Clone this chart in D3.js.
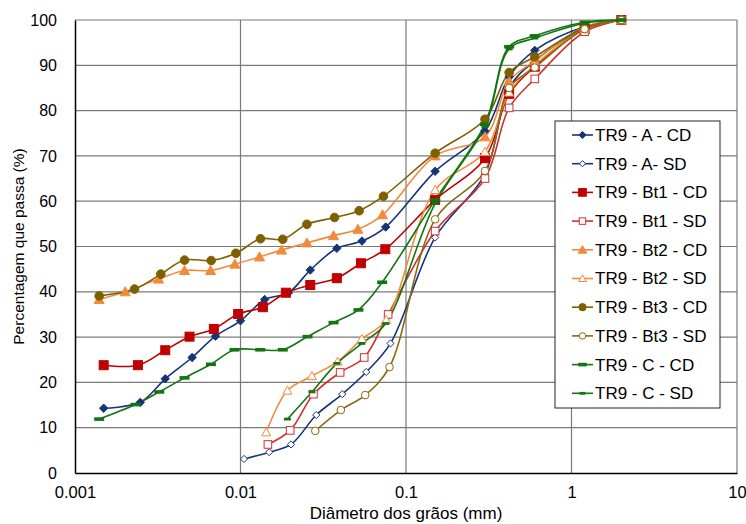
<!DOCTYPE html>
<html>
<head>
<meta charset="utf-8">
<script src="https://cdn.jsdelivr.net/npm/d3@7"></script>
<style>
  body { margin: 0; background: #fff; }
  svg text { font-family: "Liberation Sans", Arial, sans-serif; fill: #000; }
</style>
</head>
<body>
<div id="chart"></div>
<script>
// Granulometric curves, TR9 horizons, with (CD) and without (SD) dispersant

const xTicks = [0.001, 0.01, 0.1, 1, 10];
const yTicks = [0, 10, 20, 30, 40, 50, 60, 70, 80, 90, 100];

const dA_CD   = [0.00149, 0.00248, 0.00351, 0.0051, 0.00706, 0.01, 0.014, 0.0195, 0.0264, 0.0382, 0.0542, 0.0754, 0.15, 0.3, 0.42, 0.6, 1.2, 2.0];
const pA_CD   = [14.3, 15.6, 20.8, 25.5, 30.2, 33.6, 38.3, 39.8, 44.8, 49.6, 51.2, 54.3, 66.6, 75.5, 87.5, 93.3, 98.5, 100];
const dA_SD   = [0.0105, 0.0149, 0.0202, 0.0287, 0.0412, 0.0575, 0.0806, 0.15, 0.3, 0.42, 0.6, 1.2, 2.0];
const pA_SD   = [3.1, 4.6, 6.3, 12.8, 17.4, 22.3, 28.6, 52.0, 66.0, 85.0, 91.0, 98.0, 100];
const dBt1_CD = [0.00149, 0.0024, 0.00351, 0.00492, 0.0069, 0.00968, 0.01365, 0.0188, 0.0264, 0.0382, 0.0534, 0.075, 0.15, 0.3, 0.42, 0.6, 1.2, 2.0];
const pBt1_CD = [23.8, 23.8, 27.1, 30.1, 31.8, 35.1, 36.6, 39.8, 41.5, 43.0, 46.3, 49.4, 60.3, 69.5, 83.7, 89.7, 98.0, 100];
const dBt1_SD = [0.01464, 0.01995, 0.0276, 0.04, 0.0559, 0.078, 0.15, 0.3, 0.42, 0.6, 1.2, 2.0];
const pBt1_SD = [6.3, 9.4, 17.4, 22.2, 25.5, 35.0, 53.4, 65.0, 80.6, 87.0, 97.4, 100];
const dBt2_CD = [0.0014, 0.00201, 0.0032, 0.00459, 0.00659, 0.00925, 0.01303, 0.0177, 0.0252, 0.0365, 0.0512, 0.0721, 0.15, 0.3, 0.42, 0.6, 1.2, 2.0];
const pBt2_CD = [38.3, 40.0, 42.8, 44.7, 44.7, 46.1, 47.7, 49.2, 50.8, 52.4, 53.8, 57.0, 70.0, 74.2, 86.5, 91.0, 98.5, 100];
const dBt2_SD = [0.0143, 0.0192, 0.027, 0.0386, 0.0541, 0.0759, 0.15, 0.3, 0.42, 0.6, 1.2, 2.0];
const pBt2_SD = [9.0, 18.2, 21.4, 24.6, 29.6, 33.8, 62.5, 70.9, 84.0, 90.0, 98.0, 100];
const dBt3_CD = [0.0014, 0.00229, 0.0033, 0.00459, 0.00665, 0.00938, 0.0132, 0.018, 0.0252, 0.037, 0.0521, 0.0731, 0.15, 0.3, 0.42, 0.6, 1.2, 2.0];
const pBt3_CD = [39.1, 40.6, 43.9, 47.0, 46.9, 48.5, 51.7, 51.6, 54.9, 56.4, 57.9, 61.1, 70.6, 78.1, 88.4, 91.9, 98.3, 100];
const dBt3_SD = [0.0283, 0.0404, 0.0567, 0.0795, 0.15, 0.3, 0.42, 0.6, 1.2, 2.0];
const pBt3_SD = [9.3, 13.9, 17.2, 23.4, 56.0, 66.7, 85.0, 89.5, 98.0, 100];
const dC_CD   = [0.0014, 0.00232, 0.00323, 0.00459, 0.00663, 0.0092, 0.01315, 0.018, 0.0254, 0.0365, 0.0516, 0.0718, 0.15, 0.3, 0.42, 0.6, 1.2, 2.0];
const pC_CD   = [11.9, 15.1, 17.9, 21.0, 24.0, 27.2, 27.2, 27.2, 30.1, 33.2, 36.0, 42.1, 60.3, 77.0, 94.1, 96.5, 99.5, 100];
const dC_SD   = [0.0192, 0.027, 0.0382, 0.0541, 0.0754, 0.15, 0.3, 0.42, 0.6, 1.2, 2.0];
const pC_SD   = [11.9, 17.9, 24.2, 28.6, 33.0, 59.5, 76.5, 93.6, 96.0, 99.3, 100];

const seriesNames = ['TR9 - A - CD', 'TR9 - A- SD', 'TR9 - Bt1 - CD', 'TR9 - Bt1 - SD', 'TR9 - Bt2 - CD',
                     'TR9 - Bt2 - SD', 'TR9 - Bt3 - CD', 'TR9 - Bt3 - SD', 'TR9 - C - CD', 'TR9 - C - SD'];
const seriesD = [dA_CD, dA_SD, dBt1_CD, dBt1_SD, dBt2_CD, dBt2_SD, dBt3_CD, dBt3_SD, dC_CD, dC_SD];
const seriesP = [pA_CD, pA_SD, pBt1_CD, pBt1_SD, pBt2_CD, pBt2_SD, pBt3_CD, pBt3_SD, pC_CD, pC_SD];

// Look of each series: colour, marker shape, filled or not
const styles = [
  { color: '#15357a', shape: 'diamond',  fill: true  },
  { color: '#15357a', shape: 'diamond',  fill: false },
  { color: '#c00000', shape: 'square',   fill: true  },
  { color: '#d03030', shape: 'square',   fill: false },
  { color: '#f28a3c', shape: 'triangle', fill: true  },
  { color: '#f28a3c', shape: 'triangle', fill: false },
  { color: '#7f6000', shape: 'circle',   fill: true  },
  { color: '#8a6a10', shape: 'circle',   fill: false },
  { color: '#127512', shape: 'dash',     fill: true  },
  { color: '#127512', shape: 'dashS',    fill: true  }
];

const W = 746, H = 524;
const margin = { top: 20, right: 9, bottom: 51, left: 75 };

const svg = d3.select('#chart').append('svg').attr('width', W).attr('height', H);

const x = d3.scaleLog().domain([0.001, 10]).range([margin.left, W - margin.right]);
const y = d3.scaleLinear().domain([0, 100]).range([H - margin.bottom, margin.top]);

// --- Grid ---
svg.append('g')
   .selectAll('line.h')
   .data(yTicks.filter(v => v > 0))
   .enter().append('line')
   .attr('x1', x(0.001)).attr('x2', x(10))
   .attr('y1', d => y(d)).attr('y2', d => y(d))
   .attr('stroke', '#7a7a7a').attr('stroke-width', 1.2);

svg.append('g')
   .selectAll('line.v')
   .data(xTicks.filter(v => v > 0.001))
   .enter().append('line')
   .attr('x1', d => x(d)).attr('x2', d => x(d))
   .attr('y1', y(0)).attr('y2', y(100))
   .attr('stroke', '#7a7a7a').attr('stroke-width', 1.2);

// --- Axes ---
const yAxis = svg.append('g')
   .attr('transform', 'translate(' + x(0.001) + ',0)')
   .call(d3.axisLeft(y).tickValues(yTicks).tickSize(0).tickPadding(18));
yAxis.select('.domain').attr('stroke', '#000').attr('stroke-width', 1.5);
yAxis.selectAll('.tick text').style('font-size', '16px');

const xAxis = svg.append('g')
   .attr('transform', 'translate(0,' + y(0) + ')')
   .call(d3.axisBottom(x).tickValues(xTicks).tickFormat(d => String(d)).tickSize(0).tickPadding(13));
xAxis.select('.domain').attr('stroke', '#000').attr('stroke-width', 1.5);
xAxis.selectAll('.tick text').style('font-size', '16.5px');

svg.append('text')
   .attr('x', (x(0.001) + x(10)) / 2).attr('y', 519)
   .attr('text-anchor', 'middle').style('font-size', '17px')
   .text('Diâmetro dos grãos (mm)');

svg.append('text')
   .attr('transform', 'translate(24,' + ((y(0) + y(100)) / 2) + ') rotate(-90)')
   .attr('text-anchor', 'middle').style('font-size', '15.5px')
   .text('Percentagem que passa (%)');

// --- Markers ---
function drawMarker(g, shape, fill, color, cx, cy, scale)
{
  const s = scale || 1;
  const fc = fill ? color : '#fff';
  if (shape === 'diamond')
  {
    const r = (fill ? 4.2 : 3.6) * s;
    g.append('path').attr('d', `M${cx},${cy - r}L${cx + r},${cy}L${cx},${cy + r}L${cx - r},${cy}Z`)
     .attr('fill', fc).attr('stroke', color).attr('stroke-width', 1);
  }
  else if (shape === 'square')
  {
    const r = (fill ? 4.5 : 3.8) * s;
    g.append('rect').attr('x', cx - r).attr('y', cy - r).attr('width', 2 * r).attr('height', 2 * r)
     .attr('fill', fc).attr('stroke', color).attr('stroke-width', 1);
  }
  else if (shape === 'triangle')
  {
    const r = (fill ? 5 : 4.5) * s;
    g.append('path').attr('d', `M${cx},${cy - r}L${cx + r},${cy + r * 0.8}L${cx - r},${cy + r * 0.8}Z`)
     .attr('fill', fc).attr('stroke', color).attr('stroke-width', 1);
  }
  else if (shape === 'circle')
  {
    g.append('circle').attr('cx', cx).attr('cy', cy).attr('r', (fill ? 4.3 : 3.8) * s)
     .attr('fill', fc).attr('stroke', color).attr('stroke-width', 1);
  }
  else if (shape === 'dash' || shape === 'dashS')
  {
    const w = (shape === 'dash' ? 5 : 3.5) * s, h = (shape === 'dash' ? 1.8 : 1.4);
    g.append('rect').attr('x', cx - w).attr('y', cy - h).attr('width', 2 * w).attr('height', 2 * h)
     .attr('fill', color);
  }
}

// --- Series ---
const line = d3.line()
               .x(d => x(d[0]))
               .y(d => y(d[1]))
               .curve(d3.curveCatmullRom.alpha(0.5));

const plot = svg.append('g');
seriesNames.forEach((name, i) =>
{
  const pts = seriesD[i].map((d, k) => [d, seriesP[i][k]]);
  plot.append('path').datum(pts)
      .attr('d', line).attr('fill', 'none')
      .attr('stroke', styles[i].color).attr('stroke-width', 1.6);
});
seriesNames.forEach((name, i) =>
{
  const g = plot.append('g');
  seriesD[i].forEach((d, k) => drawMarker(g, styles[i].shape, styles[i].fill, styles[i].color, x(d), y(seriesP[i][k])));
});

// --- Legend ---
const lg = svg.append('g');
lg.append('rect').attr('x', 555).attr('y', 121).attr('width', 165).attr('height', 287)
  .attr('fill', '#fff').attr('stroke', '#222').attr('stroke-width', 1);

seriesNames.forEach((name, i) =>
{
  const cy = 135 + i * 28.7;
  lg.append('line').attr('x1', 572).attr('x2', 593).attr('y1', cy).attr('y2', cy)
    .attr('stroke', styles[i].color).attr('stroke-width', 1.6);
  drawMarker(lg, styles[i].shape, styles[i].fill, styles[i].color, 582.5, cy, 0.85);
  lg.append('text').attr('x', 595).attr('y', cy).attr('dy', '0.35em')
    .style('font-size', '17px').text(name);
});
</script>
</body>
</html>
